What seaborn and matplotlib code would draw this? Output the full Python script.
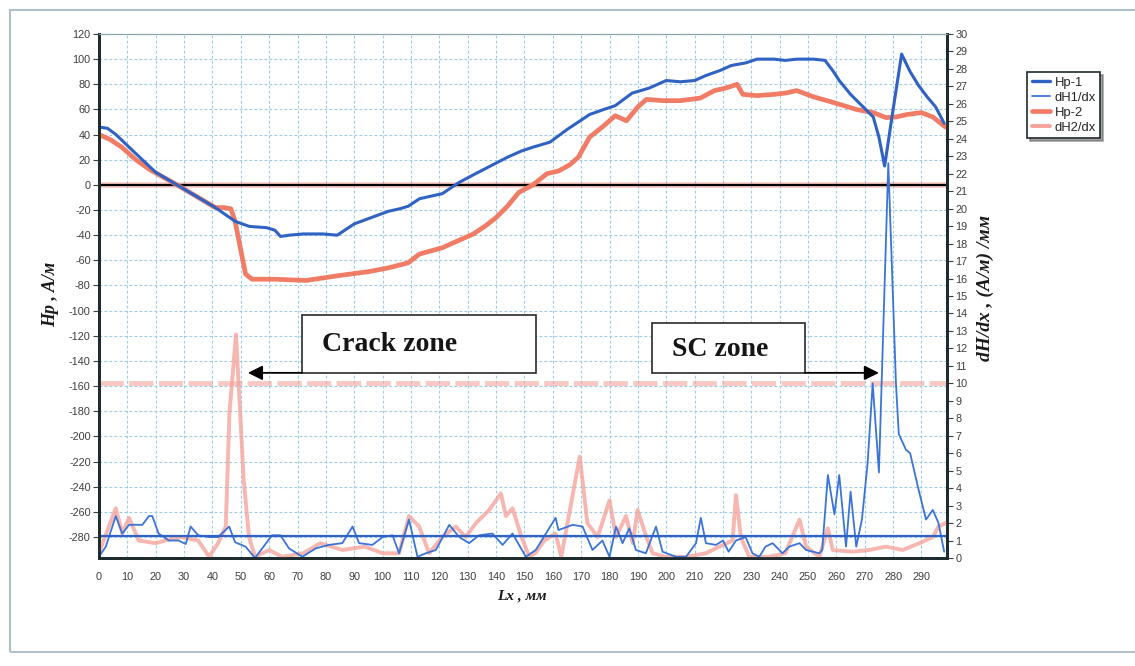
import matplotlib
matplotlib.use("Agg")
import matplotlib.pyplot as plt
import seaborn as sns
from matplotlib.lines import Line2D
from matplotlib.patches import Rectangle

# ---- measured profiles along the scan line (Lx, mm) ----
hp1_x = [0, 3, 6, 12, 20, 26, 32, 41, 48, 53, 59, 62, 64, 67, 72, 79, 84, 90, 96, 102,
         106, 109, 113, 117, 121, 127, 132, 138, 144, 149, 153, 159, 165, 169, 173, 178,
         182, 188, 194, 200, 205, 210, 214, 219, 223, 228, 232, 238, 242, 246, 252, 256,
         259, 261, 265, 269, 273, 275, 277, 280, 283, 286, 289, 292, 295, 298]
hp1_y = [46, 45, 40, 27, 10, 2, -6, -18, -29, -33, -34, -36, -41, -40, -39, -39, -40, -31,
         -26, -21, -19, -17, -11, -9, -7, 2, 8, 15, 22, 27, 30, 34, 44, 50, 56, 60, 63, 73,
         77, 83, 82, 83, 87, 91, 95, 97, 100, 100, 99, 100, 100, 99, 90, 83, 72, 63, 54,
         38, 15, 60, 104, 90, 79, 70, 62, 49]

hp2_x = [0, 4, 8, 13, 18, 26, 35, 41, 44, 46.5, 48, 50, 51.7, 54, 62, 73, 85, 95, 102, 109,
         113, 121, 126, 132, 136, 140, 144, 148, 153, 158, 162, 166, 169, 173, 178, 182,
         186, 190, 193, 199, 205, 212, 217, 221, 225, 227, 232, 238, 242, 246, 252, 259,
         267, 273, 277.5, 281, 285, 290, 294, 298.5]
hp2_y = [40, 36, 30, 20, 12, 2, -10, -18, -18, -19, -29, -52, -71, -75, -75, -76, -72, -69,
         -66, -62, -55, -50, -45, -39, -33, -26, -17, -6, 0, 9, 11, 16, 22, 38, 47, 55, 51,
         62, 68, 67, 67, 69, 75, 77, 80, 72, 71, 72, 73, 75, 70, 65.5, 60, 57.5, 53.5, 54,
         56, 57.5, 54, 46]

dh1_x = [0, 2.4, 5.9, 8.2, 10.6, 15.3, 17.6, 18.8, 21, 24.7, 28, 30.6, 32.3, 35, 38.8, 42,
         45.9, 48, 51.7, 55, 61, 64, 67, 71.7, 76.4, 81, 85.8, 89.4, 91.7, 96.4, 100, 103.5,
         105.8, 109.3, 112.3, 115.2, 118.8, 123.5, 127, 130.5, 134, 138.7, 142.3, 145.8,
         150.5, 154, 161, 162, 167, 170.5, 174, 177.5, 180, 182.3, 184.6, 187, 189.3, 192.8,
         196.4, 198.7, 203.4, 207, 210.5, 212.2, 214, 217.5, 220, 222, 224.6, 228, 230.4,
         232.8, 235, 237.5, 241, 243.4, 247, 249.3, 254, 255, 257, 259.3, 261, 263.4, 265,
         267, 269, 271, 272.8, 275, 278.3, 281, 282, 284.5, 286, 289, 291.6, 294, 296, 298]
dh1_y = [0.08, 0.65, 2.4, 1.4, 1.9, 1.9, 2.4, 2.4, 1.4, 1.0, 1.0, 0.8, 1.8, 1.3, 1.2, 1.2,
         1.8, 0.9, 0.65, 0.0, 1.3, 1.3, 0.55, 0.07, 0.55, 0.75, 0.85, 1.8, 0.85, 0.75, 1.2,
         1.3, 0.27, 2.2, 0.07, 0.27, 0.46, 1.9, 1.2, 0.85, 1.3, 1.4, 0.75, 1.4, 0.07, 0.46,
         2.3, 1.6, 1.9, 1.8, 0.46, 1.0, 0.07, 1.8, 0.85, 1.7, 0.46, 0.27, 1.8, 0.36, 0.07,
         0.07, 0.85, 2.3, 0.85, 0.75, 1.0, 0.36, 1.0, 1.2, 0.27, 0.07, 0.65, 0.85, 0.27,
         0.65, 0.85, 0.46, 0.27, 0.46, 4.75, 2.5, 4.75, 0.65, 3.8, 0.65, 2.2, 5.4, 10.0,
         4.9, 22.6, 10.0, 7.1, 6.2, 6.0, 3.9, 2.2, 2.75, 2.0, 0.36]

dh2_x = [0, 5.9, 8.2, 10.6, 14, 20, 23.3, 29, 35, 38.8, 42, 44.7, 46, 48.3, 51, 52.9, 55, 60,
         64.5, 72, 78, 85.8, 93.8, 100, 105.8, 109.3, 112.9, 116.4, 121, 125.8, 129.3, 132.9,
         137.6, 141.7, 143.5, 145.8, 149, 151.7, 154, 157, 161, 163, 169.5, 172.2, 175.8,
         180, 182.3, 185.8, 188.2, 189.9, 193, 195.2, 199.9, 207, 214, 218.7, 223.4, 224.6,
         226.3, 229.3, 236.3, 242, 247, 249.3, 254, 257, 258.7, 265.7, 271.6, 277.5, 283.4,
         289.3, 294, 296, 298.5]
dh2_y = [0.3, 2.85, 1.4, 2.3, 1.0, 0.85, 1.0, 1.2, 1.0, 0.07, 0.85, 1.8, 8.3, 12.8, 4.5, 1.2,
         0.07, 0.46, 0.07, 0.27, 0.85, 0.46, 0.65, 0.27, 0.27, 2.4, 1.8, 0.27, 1.2, 1.8, 1.2,
         2.0, 2.75, 3.7, 2.4, 2.85, 1.2, 0.07, 0.3, 1.0, 1.4, 0.07, 5.8, 2.0, 1.2, 3.3, 1.2,
         2.4, 0.85, 2.75, 1.2, 0.27, 0.07, 0.07, 0.27, 0.65, 1.0, 3.6, 1.2, 0.07, 0.07, 0.27,
         2.2, 0.65, 0.07, 1.7, 0.46, 0.36, 0.46, 0.65, 0.46, 0.85, 1.2, 1.8, 2.0]

series_labels = ["Hp-1", "dH1/dx", "Hp-2", "dH2/dx"]
grad_threshold = 10.0     # dH/dx alarm level, (A/m)/mm
grad_background = 1.25    # dH1/dx background level
left_ticks = list(range(-280, 121, 20))
right_ticks = list(range(0, 31))
x_ticks = list(range(0, 291, 10))

# ---- styling ----
C_HP1 = "#2f62c2"
C_DH1 = "#3a74d8"
C_HP2 = "#f07c66"
C_DH2 = "#f5a49c"
C_SPINE = "#1d2b2e"
C_GRID = "#9ccbe6"

sns.set_style("white")
plt.rcParams["font.family"] = ["Liberation Sans", "DejaVu Sans"]
plt.rcParams["axes.unicode_minus"] = False

W, H = 1135, 666
fig = plt.figure(figsize=(W / 100, H / 100), dpi=100)
ax = fig.add_axes([99 / W, 1 - 558 / H, (947 - 99) / W, (558 - 34) / H])
ax2 = ax.twinx()

ax.set_xlim(0, 299)
ax.set_ylim(-296.7, 120)
ax2.set_ylim(0, 30)

ax.set_xticks(x_ticks)
ax.set_yticks(left_ticks)
ax2.set_yticks(right_ticks)
ax.grid(True, color=C_GRID, ls=(0, (2.5, 2)), lw=0.8)
ax.set_axisbelow(True)
ax2.grid(False)

# zero line of the field axis
ax.axhline(0, color=C_HP2, lw=4, alpha=0.4, zorder=2)
ax.axhline(0, color="black", lw=1.6, zorder=3)

# field curves on the left axis
sns.lineplot(x=hp2_x, y=hp2_y, ax=ax, color=C_HP2, lw=3.4,
             sort=False, estimator=None, legend=False, zorder=4)
sns.lineplot(x=hp1_x, y=hp1_y, ax=ax, color=C_HP1, lw=2.2,
             sort=False, estimator=None, legend=False, zorder=5)

# gradient curves on the right axis
ax2.axhline(grad_threshold, color=C_DH2, lw=3.5, alpha=0.6, ls=(0, (5, 1.1)), zorder=1)
sns.lineplot(x=dh2_x, y=dh2_y, ax=ax2, color=C_DH2, lw=2.8, alpha=0.8,
             sort=False, estimator=None, legend=False)
sns.lineplot(x=dh1_x, y=dh1_y, ax=ax2, color=C_DH1, lw=1.3,
             sort=False, estimator=None, legend=False)
ax2.axhline(grad_background, color=C_HP1, lw=1.6)

# axis cosmetics
for a in (ax, ax2):
    for s in a.spines.values():
        s.set_color(C_SPINE)
        s.set_linewidth(2)
    a.spines["top"].set_linewidth(0.8)
    a.spines["top"].set_color("#8aa3ad")
ax.tick_params(axis="x", labelsize=7.8, colors="#3d3d3d", length=3, direction="out", pad=7)
ax.tick_params(axis="y", labelsize=7.8, colors="#3d3d3d", length=4, direction="out", pad=2)
ax2.tick_params(axis="y", labelsize=7.8, colors="#3d3d3d", length=4, direction="out", pad=2)
ax.set_xlabel("")
ax.set_ylabel("")
ax2.set_ylabel("")

# zone call-outs
box_kw = dict(fill=True, facecolor="white", edgecolor="#2a2a2a", lw=1.2, zorder=8)
ax2.add_patch(Rectangle((71.5, 10.6), 154 - 71.5, 13.9 - 10.6, **box_kw))
ax2.text(78.5, 12.25, "Crack zone", fontfamily="Liberation Serif", fontweight="bold",
         fontsize=20, va="center", ha="left", zorder=9, color="#151515")
ax2.annotate("", xy=(52.5, 10.6), xytext=(71.5, 10.6), zorder=9,
             arrowprops=dict(arrowstyle="-|>", mutation_scale=22, lw=1.3, color="black",
                             shrinkA=0, shrinkB=0))
ax2.add_patch(Rectangle((195, 10.6), 249 - 195, 13.47 - 10.6, **box_kw))
ax2.text(202, 11.95, "SC zone", fontfamily="Liberation Serif", fontweight="bold",
         fontsize=20, va="center", ha="left", zorder=9, color="#151515")
ax2.annotate("", xy=(275, 10.6), xytext=(249, 10.6), zorder=9,
             arrowprops=dict(arrowstyle="-|>", mutation_scale=22, lw=1.3, color="black",
                             shrinkA=0, shrinkB=0))

# axis titles
lab_kw = dict(fontfamily="Liberation Serif", fontweight="bold", fontstyle="italic",
              color="#1a1a1a")
fig.text(51 / W, 1 - 294 / H, "Hp , A/м", rotation=90, ha="center", va="center",
         fontsize=13, **lab_kw)
fig.text(985 / W, 1 - 288 / H, "dH/dx , (A/м) /мм", rotation=90, ha="center", va="center",
         fontsize=14, **lab_kw)
fig.text(522 / W, 1 - 596 / H, "Lx , мм", ha="center", va="center", fontsize=11, **lab_kw)

# legend
handles = [Line2D([], [], color=C_HP1, lw=2.4),
           Line2D([], [], color=C_DH1, lw=1.3),
           Line2D([], [], color=C_HP2, lw=3.4),
           Line2D([], [], color=C_DH2, lw=2.8)]
leg = fig.legend(handles, series_labels, loc="upper left",
                 bbox_to_anchor=(1027 / W, 1 - 72 / H), frameon=True, shadow=True,
                 fancybox=False, fontsize=9.4, handlelength=1.4, borderpad=0.35,
                 labelspacing=0.22, handletextpad=0.35, borderaxespad=0)
leg.get_frame().set_edgecolor(C_SPINE)
leg.get_frame().set_linewidth(1.2)

# outer frame of the chart panel
fig.add_artist(Rectangle((10 / W, 1 - 652 / H), (1160 - 10) / W, (652 - 10) / H,
                         transform=fig.transFigure, fill=False, ec="#adc0cb", lw=1.5))

fig.savefig("out.png", dpi=100)
